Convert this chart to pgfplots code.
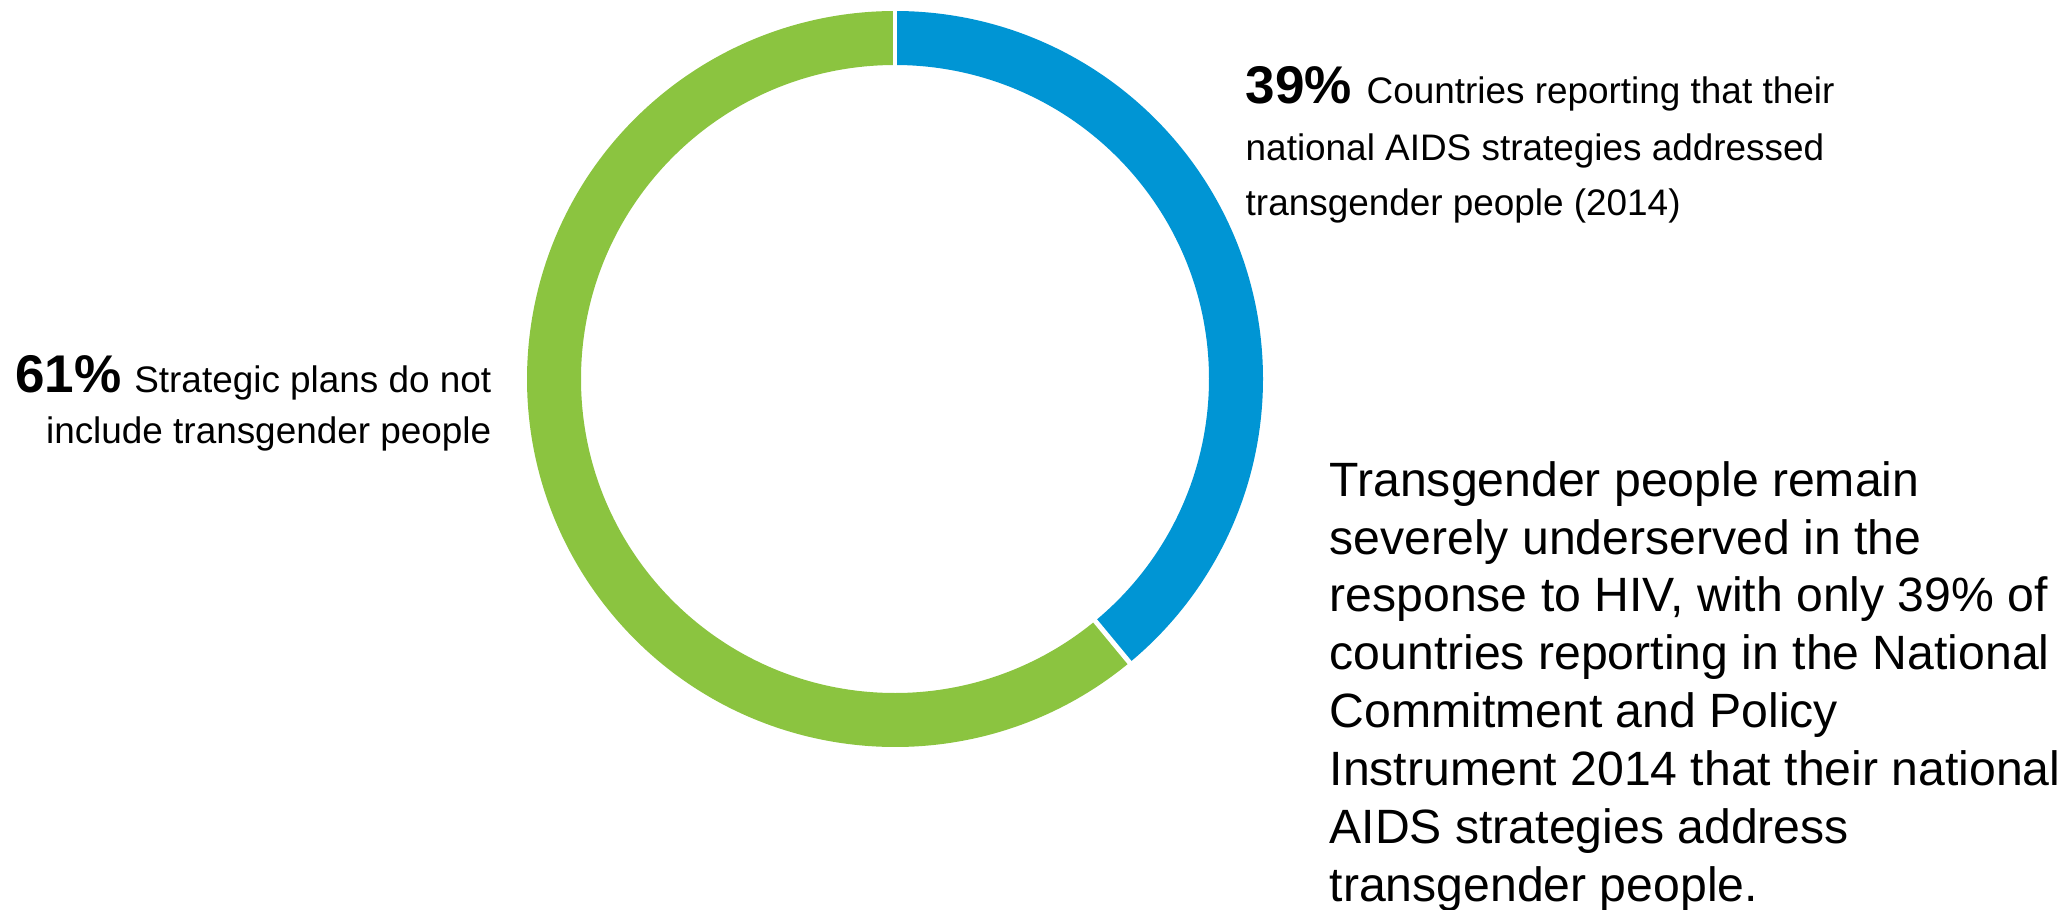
\documentclass[border=0pt]{standalone}
\usepackage{fontspec}
\setmainfont{Liberation Sans}
\usepackage{pgfplots}
\usepackage{pgfplotstable}
\pgfplotsset{compat=1.18}
\definecolor{uablue}{RGB}{0,149,212}
\definecolor{uagreen}{RGB}{139,196,64}

\pgfplotstableread{
label value
addressed 39
notincluded 61
}\piedata
\pgfplotstablegetelem{0}{value}\of\piedata
\pgfmathsetmacro{\va}{\pgfplotsretval}
\pgfplotstablegetelem{1}{value}\of\piedata
\pgfmathsetmacro{\vb}{\pgfplotsretval}
\pgfmathsetmacro{\angA}{90-3.6*\va}
\pgfmathsetmacro{\angB}{\angA-3.6*\vb}

\newcommand{\lblfont}{\fontsize{10.5}{12.6}\selectfont}
\newcommand{\pctfont}{\fontsize{15.1}{18}\selectfont\bfseries}
\newcommand{\parafont}{\fontsize{13.7}{16.5}\selectfont}

\begin{document}
\begin{tikzpicture}
\begin{axis}[
  anchor=south west, at={(0,0)},
  scale only axis, width=20.69cm, height=9.10cm,
  xmin=0, xmax=2069, ymin=0, ymax=910,
  hide axis, clip=false,
]
\addplot[draw=none] coordinates {(0,0) (2069,910)};
\begin{scope}[shift={(axis cs:895,531)}]
  \fill[uablue] (90:3.68cm) arc[start angle=90, end angle=\angA, radius=3.68cm]
     -- (\angA:3.14cm) arc[start angle=\angA, end angle=90, radius=3.14cm] -- cycle;
  \fill[uagreen] (\angA:3.68cm) arc[start angle=\angA, end angle=\angB, radius=3.68cm]
     -- (\angB:3.14cm) arc[start angle=\angB, end angle=\angA, radius=3.14cm] -- cycle;
  \draw[white, line width=1.4pt] (90:3.0cm) -- (90:3.8cm);
  \draw[white, line width=1.4pt] (\angA:3.0cm) -- (\angA:3.8cm);
\end{scope}
% right top label
\node[anchor=base west, inner sep=0pt] at (axis cs:1245,807) {{\pctfont 39\%}\hspace{4.2pt}{\lblfont Countries reporting that their}};
\node[anchor=base west, inner sep=0pt] at (axis cs:1245,750) {\lblfont national AIDS strategies addressed};
\node[anchor=base west, inner sep=0pt] at (axis cs:1245,695) {\lblfont transgender people (2014)};
% left label
\node[anchor=base east, inner sep=0pt] at (axis cs:492,518) {{\pctfont 61\%}\hspace{3.7pt}{\lblfont Strategic plans do not}};
\node[anchor=base east, inner sep=0pt] at (axis cs:492,467) {\lblfont include transgender people};
% paragraph
\node[anchor=base west, inner sep=0pt] at (axis cs:1329,414) {\parafont Transgender people remain};
\node[anchor=base west, inner sep=0pt] at (axis cs:1329,356) {\parafont severely underserved in the};
\node[anchor=base west, inner sep=0pt] at (axis cs:1329,298) {\parafont response to HIV, with only 39\% of};
\node[anchor=base west, inner sep=0pt] at (axis cs:1329,240) {\parafont countries reporting in the National};
\node[anchor=base west, inner sep=0pt] at (axis cs:1329,182) {\parafont Commitment and Policy};
\node[anchor=base west, inner sep=0pt] at (axis cs:1329,124) {\parafont Instrument 2014 that their national};
\node[anchor=base west, inner sep=0pt] at (axis cs:1329,66) {\parafont AIDS strategies address};
\node[anchor=base west, inner sep=0pt] at (axis cs:1329,8) {\parafont transgender people.};
\end{axis}
\pgfresetboundingbox
\path (0,0) rectangle (20.69cm,9.10cm);
\end{tikzpicture}
\end{document}
